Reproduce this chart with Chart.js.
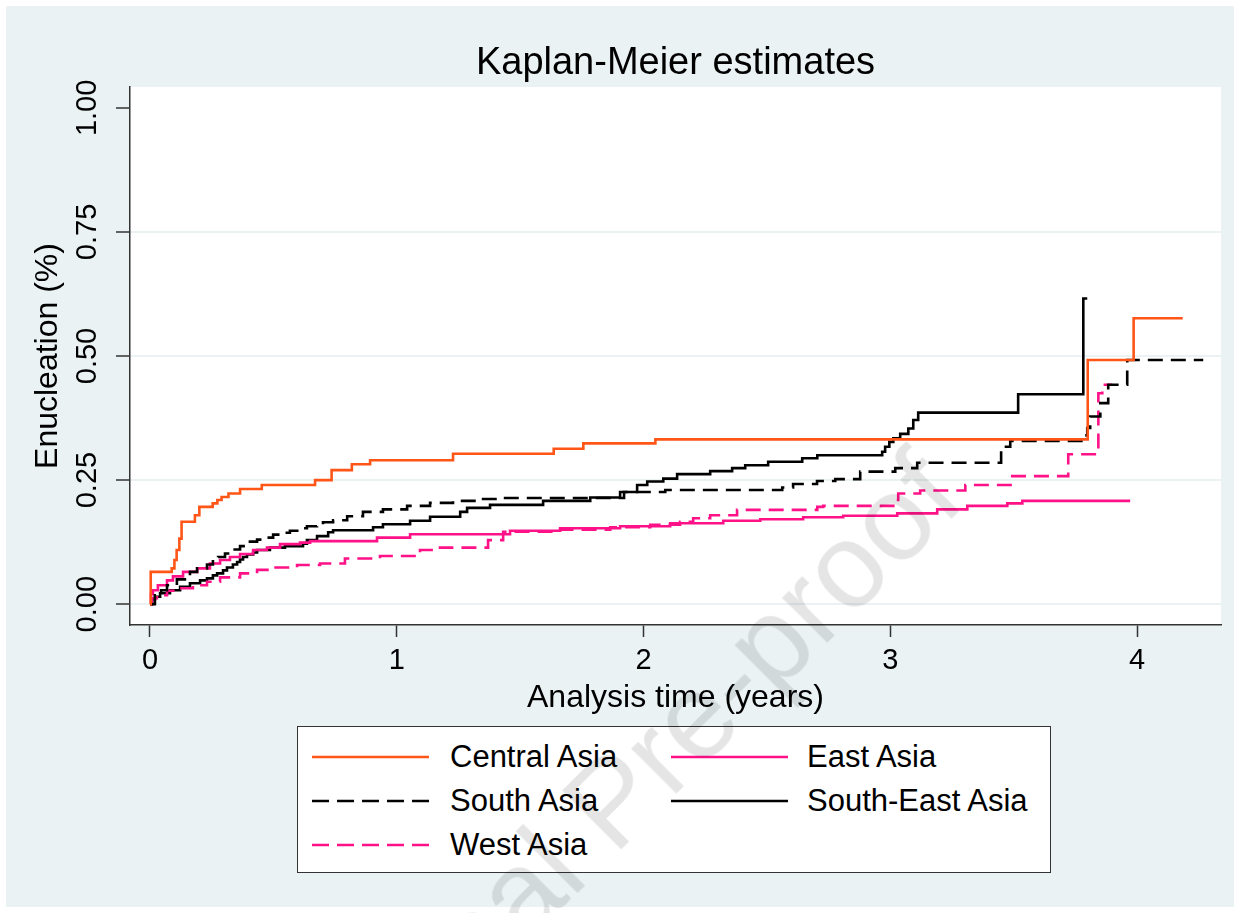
<!DOCTYPE html>
<html>
<head>
<meta charset="utf-8">
<script src="https://cdn.jsdelivr.net/npm/chart.js@4.4.0/dist/chart.umd.min.js"></script>
<style>
html,body{margin:0;padding:0;background:#fff;}
#wrap{position:relative;width:1253px;height:913px;overflow:hidden;}
#bg{position:absolute;left:6px;top:6px;width:1228px;height:901px;background:#eaf2f3;}
#c{position:absolute;left:0;top:0;}
#legend{position:absolute;left:297px;top:726px;width:754px;height:147px;background:#fff;border:1.5px solid #333;box-sizing:border-box;font-family:'Liberation Sans',Arial,sans-serif;font-size:31px;color:#000;}
.item{position:absolute;height:40px;display:flex;align-items:center;white-space:nowrap;}
.item svg{display:block;}
#wm{position:absolute;left:0;top:0;pointer-events:none;}
</style>
</head>
<body>
<div id="wrap">
  <div id="bg"></div>
  <canvas id="c" width="1253" height="913"></canvas>
  <div id="legend"></div>
  <svg id="wm" width="1253" height="913">
    <text x="312" y="1158" transform="rotate(-45 312 1158)" font-family="Liberation Sans, Arial, sans-serif" font-size="120" fill="rgba(0,0,0,0.10)">Journal Pre-proof</text>
  </svg>
</div>
<script>
// ---- Data ----
const xTickValues = [0, 1, 2, 3, 4];
const yTickValues = [0, 0.25, 0.5, 0.75, 1.0];

const centralT = [0, 0.003, 0.088, 0.099, 0.108, 0.119, 0.128, 0.182, 0.200, 0.254, 0.273, 0.290, 0.318, 0.365, 0.453, 0.669, 0.736, 0.818, 0.892, 1.228, 1.636, 1.756, 2.048, 3.800, 3.986, 4.185];
const centralV = [0, 0.065, 0.072, 0.089, 0.109, 0.132, 0.166, 0.179, 0.196, 0.203, 0.210, 0.216, 0.223, 0.232, 0.240, 0.250, 0.270, 0.282, 0.290, 0.303, 0.313, 0.324, 0.332, 0.492, 0.576, 0.576];

const southT = [0, 0.020, 0.045, 0.069, 0.109, 0.150, 0.162, 0.191, 0.231, 0.255, 0.276, 0.304, 0.332, 0.365, 0.405, 0.434, 0.474, 0.499, 0.539, 0.567, 0.608, 0.636, 0.677, 0.701, 0.742, 0.799, 0.863, 0.944, 1.042, 1.135, 1.228, 1.338, 1.407, 1.921, 2.088, 2.562, 2.606, 2.703, 2.777, 2.878, 3.020, 3.109, 3.449, 3.486, 3.786, 3.798, 3.810, 3.851, 3.883, 3.960, 4.268];
const southV = [0, 0.018, 0.028, 0.038, 0.050, 0.058, 0.065, 0.072, 0.080, 0.089, 0.095, 0.102, 0.110, 0.117, 0.126, 0.130, 0.134, 0.140, 0.144, 0.148, 0.153, 0.157, 0.161, 0.165, 0.169, 0.177, 0.186, 0.191, 0.198, 0.204, 0.208, 0.212, 0.214, 0.226, 0.230, 0.235, 0.242, 0.248, 0.252, 0.267, 0.274, 0.285, 0.317, 0.329, 0.340, 0.355, 0.378, 0.405, 0.442, 0.492, 0.492];

const westT = [0, 0.008, 0.028, 0.069, 0.122, 0.174, 0.231, 0.284, 0.365, 0.434, 0.499, 0.596, 0.689, 0.790, 0.932, 1.094, 1.175, 1.370, 1.431, 1.662, 1.865, 2.027, 2.148, 2.201, 2.270, 2.379, 2.704, 2.728, 3.012, 3.032, 3.121, 3.304, 3.494, 3.721, 3.843, 3.859, 3.899];
const westV = [0, 0.012, 0.018, 0.027, 0.032, 0.038, 0.045, 0.054, 0.062, 0.069, 0.074, 0.079, 0.082, 0.092, 0.097, 0.109, 0.114, 0.129, 0.146, 0.150, 0.155, 0.160, 0.166, 0.173, 0.179, 0.190, 0.196, 0.198, 0.210, 0.223, 0.229, 0.240, 0.258, 0.302, 0.425, 0.442, 0.442];

const eastT = [0, 0.004, 0.012, 0.032, 0.069, 0.093, 0.134, 0.191, 0.243, 0.284, 0.324, 0.365, 0.418, 0.474, 0.527, 0.608, 0.649, 0.920, 1.054, 1.459, 1.662, 1.905, 2.108, 2.323, 2.473, 2.647, 2.809, 3.028, 3.190, 3.312, 3.474, 3.535, 3.972];
const eastV = [0, 0.020, 0.028, 0.038, 0.048, 0.056, 0.065, 0.072, 0.082, 0.089, 0.095, 0.101, 0.109, 0.114, 0.121, 0.124, 0.127, 0.134, 0.141, 0.148, 0.153, 0.157, 0.163, 0.168, 0.171, 0.175, 0.178, 0.183, 0.191, 0.198, 0.203, 0.208, 0.208];

const seT = [0, 0.008, 0.020, 0.041, 0.081, 0.122, 0.162, 0.203, 0.231, 0.255, 0.272, 0.296, 0.312, 0.336, 0.353, 0.365, 0.377, 0.393, 0.418, 0.434, 0.486, 0.547, 0.620, 0.636, 0.677, 0.722, 0.742, 0.904, 0.944, 1.054, 1.135, 1.257, 1.285, 1.378, 1.593, 1.784, 1.905, 1.974, 2.015, 2.080, 2.136, 2.270, 2.359, 2.412, 2.505, 2.643, 2.704, 2.967, 2.979, 2.996, 3.012, 3.040, 3.073, 3.093, 3.113, 3.518, 3.782, 3.798];
const seV = [0, 0.010, 0.015, 0.022, 0.028, 0.035, 0.042, 0.048, 0.052, 0.058, 0.062, 0.068, 0.074, 0.080, 0.085, 0.090, 0.095, 0.100, 0.104, 0.109, 0.114, 0.117, 0.122, 0.129, 0.137, 0.145, 0.149, 0.155, 0.161, 0.168, 0.176, 0.186, 0.194, 0.200, 0.208, 0.215, 0.226, 0.240, 0.247, 0.253, 0.262, 0.268, 0.274, 0.280, 0.287, 0.294, 0.300, 0.307, 0.317, 0.327, 0.334, 0.343, 0.354, 0.371, 0.386, 0.423, 0.616, 0.616];

// ---- Styles ----
const FONT = "'Liberation Sans', Arial, sans-serif";
const ORANGE = '#ff5517';
const PINK = '#ff1188';
const DASH = [15, 8];

function pts(t, v) { return t.map((x, i) => ({ x: x, y: v[i] })); }

const series = [
  { label: 'Central Asia', t: centralT, v: centralV, color: ORANGE, dash: [], col: 0, row: 0 },
  { label: 'South Asia', t: southT, v: southV, color: '#000000', dash: DASH, col: 0, row: 1 },
  { label: 'West Asia', t: westT, v: westV, color: PINK, dash: DASH, col: 0, row: 2 },
  { label: 'East Asia', t: eastT, v: eastV, color: PINK, dash: [], col: 1, row: 0 },
  { label: 'South-East Asia', t: seT, v: seV, color: '#000000', dash: [], col: 1, row: 1 }
];

const plotBg = {
  id: 'plotBg',
  beforeDraw(chart) {
    const { ctx, chartArea: a } = chart;
    ctx.save();
    ctx.fillStyle = '#ffffff';
    ctx.fillRect(a.left, a.top, a.right - a.left, a.bottom - a.top);
    ctx.restore();
  }
};

Chart.defaults.font.family = FONT;

new Chart(document.getElementById('c'), {
  type: 'line',
  data: {
    datasets: series.map(s => ({
      label: s.label,
      data: pts(s.t, s.v),
      borderColor: s.color,
      backgroundColor: s.color,
      borderWidth: 2.6,
      borderDash: s.dash,
      stepped: 'before',
      pointRadius: 0,
      fill: false,
      tension: 0
    }))
  },
  options: {
    responsive: false,
    animation: false,
    events: [],
    layout: { padding: { left: 0, right: 32, top: 0, bottom: 188 } },
    plugins: {
      legend: { display: false },
      tooltip: { enabled: false },
      title: {
        display: true,
        fullSize: false,
        text: 'Kaplan-Meier estimates',
        color: '#000',
        font: { family: FONT, size: 38, weight: 'normal' },
        padding: { top: 41, bottom: 0.4 }
      }
    },
    scales: {
      x: {
        type: 'linear',
        min: -0.081,
        max: 4.34,
        afterBuildTicks: s => { s.ticks = xTickValues.map(v => ({ value: v })); },
        afterFit: s => { s.height = 100; },
        grid: { drawOnChartArea: false, drawTicks: true, tickLength: 12, tickColor: '#333', tickWidth: 1.5 },
        border: { display: true, color: '#333', width: 1.5 },
        ticks: { color: '#000', font: { family: FONT, size: 29 }, padding: 7, maxRotation: 0, autoSkip: false, callback: v => String(v) },
        title: { display: true, text: 'Analysis time (years)', color: '#000', font: { family: FONT, size: 32 }, padding: { top: 0, bottom: 8 } }
      },
      y: {
        type: 'linear',
        min: -0.042,
        max: 1.042,
        afterBuildTicks: s => { s.ticks = yTickValues.map(v => ({ value: v })); },
        afterFit: s => { s.width = 130; },
        grid: {
          color: c => (c.tick && c.tick.value === 1) ? 'rgba(0,0,0,0)' : '#eaf2f3',
          lineWidth: 2,
          drawTicks: true,
          tickLength: 14,
          tickColor: '#333',
          tickWidth: 1.5
        },
        border: { display: true, color: '#333', width: 1.5 },
        ticks: { color: '#000', font: { family: FONT, size: 29 }, minRotation: 90, maxRotation: 90, crossAlign: 'center', padding: 0, autoSkip: false, callback: v => Number(v).toFixed(2) },
        title: { display: true, text: 'Enucleation (%)', color: '#000', font: { family: FONT, size: 32 }, padding: { top: 29, bottom: 0 } }
      }
    }
  },
  plugins: [plotBg]
});

// ---- Legend (HTML, built from the series list) ----
const legend = document.getElementById('legend');
const rowCenters = [30, 74, 118];
const colLineX = [14, 373];
const colTextX = [152, 509];
const lineW = 117;
series.forEach(s => {
  const lineDiv = document.createElement('div');
  lineDiv.className = 'item';
  lineDiv.style.left = colLineX[s.col] + 'px';
  lineDiv.style.top = (rowCenters[s.row] - 20) + 'px';
  const svgNS = 'http://www.w3.org/2000/svg';
  const svg = document.createElementNS(svgNS, 'svg');
  svg.setAttribute('width', lineW);
  svg.setAttribute('height', 10);
  const ln = document.createElementNS(svgNS, 'line');
  ln.setAttribute('x1', 0); ln.setAttribute('y1', 5);
  ln.setAttribute('x2', lineW); ln.setAttribute('y2', 5);
  ln.setAttribute('stroke', s.color);
  ln.setAttribute('stroke-width', 2.5);
  if (s.dash.length) ln.setAttribute('stroke-dasharray', '17 8');
  svg.appendChild(ln);
  lineDiv.appendChild(svg);
  legend.appendChild(lineDiv);

  const txt = document.createElement('div');
  txt.className = 'item';
  txt.style.left = colTextX[s.col] + 'px';
  txt.style.top = (rowCenters[s.row] - 20) + 'px';
  txt.textContent = s.label;
  legend.appendChild(txt);
});
</script>
</body>
</html>
